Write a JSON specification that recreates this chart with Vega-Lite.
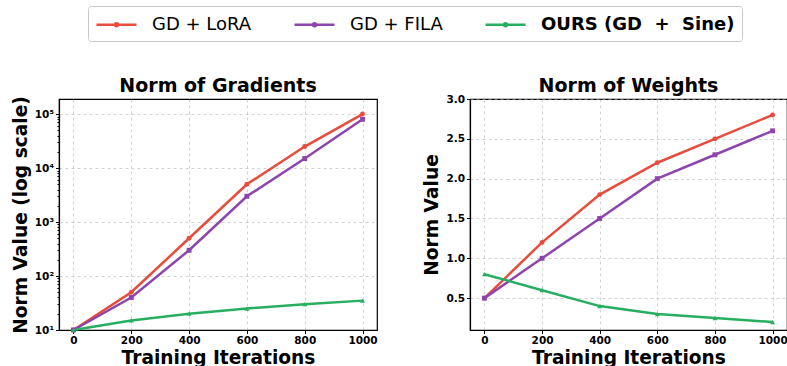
{
  "$schema": "https://vega.github.io/schema/vega-lite/v6.json",
  "padding": {"left": 10, "top": 5, "right": 0, "bottom": 0},
  "background": "white",
  "spacing": 44,
  "datasets": {
    "grad": [
      {"iter": 0, "series": "GD + LoRA", "value": 10},
      {"iter": 200, "series": "GD + LoRA", "value": 50},
      {"iter": 400, "series": "GD + LoRA", "value": 500},
      {"iter": 600, "series": "GD + LoRA", "value": 5000},
      {"iter": 800, "series": "GD + LoRA", "value": 25000},
      {"iter": 1000, "series": "GD + LoRA", "value": 100000},
      {"iter": 0, "series": "GD + FILA", "value": 10},
      {"iter": 200, "series": "GD + FILA", "value": 40},
      {"iter": 400, "series": "GD + FILA", "value": 300},
      {"iter": 600, "series": "GD + FILA", "value": 3000},
      {"iter": 800, "series": "GD + FILA", "value": 15000},
      {"iter": 1000, "series": "GD + FILA", "value": 80000},
      {"iter": 0, "series": "OURS (GD + Sine)", "value": 10},
      {"iter": 200, "series": "OURS (GD + Sine)", "value": 15},
      {"iter": 400, "series": "OURS (GD + Sine)", "value": 20},
      {"iter": 600, "series": "OURS (GD + Sine)", "value": 25},
      {"iter": 800, "series": "OURS (GD + Sine)", "value": 30},
      {"iter": 1000, "series": "OURS (GD + Sine)", "value": 35}
    ],
    "weight": [
      {"iter": 0, "series": "GD + LoRA", "value": 0.5},
      {"iter": 200, "series": "GD + LoRA", "value": 1.2},
      {"iter": 400, "series": "GD + LoRA", "value": 1.8},
      {"iter": 600, "series": "GD + LoRA", "value": 2.2},
      {"iter": 800, "series": "GD + LoRA", "value": 2.5},
      {"iter": 1000, "series": "GD + LoRA", "value": 2.8},
      {"iter": 0, "series": "GD + FILA", "value": 0.5},
      {"iter": 200, "series": "GD + FILA", "value": 1.0},
      {"iter": 400, "series": "GD + FILA", "value": 1.5},
      {"iter": 600, "series": "GD + FILA", "value": 2.0},
      {"iter": 800, "series": "GD + FILA", "value": 2.3},
      {"iter": 1000, "series": "GD + FILA", "value": 2.6},
      {"iter": 0, "series": "OURS (GD + Sine)", "value": 0.8},
      {"iter": 200, "series": "OURS (GD + Sine)", "value": 0.6},
      {"iter": 400, "series": "OURS (GD + Sine)", "value": 0.4},
      {"iter": 600, "series": "OURS (GD + Sine)", "value": 0.3},
      {"iter": 800, "series": "OURS (GD + Sine)", "value": 0.25},
      {"iter": 1000, "series": "OURS (GD + Sine)", "value": 0.2}
    ]
  },
  "config": {
    "font": "DejaVu Sans",
    "view": {"stroke": "black", "strokeWidth": 1.2},
    "axis": {
      "labelFont": "DejaVu Sans", "labelFontWeight": "bold", "labelFontSize": 10.5, "labelColor": "black",
      "titleFont": "DejaVu Sans", "titleFontSize": 18.6, "titleFontWeight": "bold", "titleColor": "black",
      "domainColor": "black", "domainWidth": 1.2, "tickColor": "black", "tickSize": 3.5, "labelPadding": 2,
      "gridColor": "#b0b0b0", "gridDash": [3, 3], "gridWidth": 0.7, "gridOpacity": 0.8
    },
    "axisX": {"titlePadding": 2},
    "axisY": {"titlePadding": 4},
    "title": {"fontSize": 19, "font": "DejaVu Sans", "fontWeight": "bold", "color": "black"}
  },
  "hconcat": [
    {
      "width": 318, "height": 231,
      "title": {"text": "Norm of Gradients", "offset": 0},
      "data": {"name": "grad"},
      "layer": [
        {
          "mark": {"type": "line", "strokeWidth": 2.5},
          "encoding": {
            "x": {"field": "iter", "type": "quantitative", "scale": {"domain": [-50, 1050], "nice": false, "zero": false},
                  "axis": {"values": [0, 200, 400, 600, 800, 1000], "format": "d", "title": "Training Iterations"}},
            "y": {"field": "value", "type": "quantitative", "scale": {"type": "log", "domain": [10, 190000], "nice": false},
                  "axis": {"values": [10, 100, 1000, 10000, 100000], "title": "Norm Value (log scale)",
                           "labelExpr": "'10' + ['⁰','¹','²','³','⁴','⁵','⁶'][round(log(datum.value)/LN10)]"}},
            "color": {"field": "series", "type": "nominal",
                      "scale": {"domain": ["GD + LoRA", "GD + FILA", "OURS (GD + Sine)"], "range": ["#e74c3c", "#8e44ad", "#27ae60"]},
                      "legend": {
                        "title": null, "orient": "none", "legendX": 29, "legendY": -93, "direction": "horizontal", "columns": 3,
                        "symbolType": "M-1,0H3M0.85,0A0.15,0.15 0 1,1 1.15,0A0.15,0.15 0 1,1 0.85,0", "symbolSize": 400, "symbolStrokeWidth": 2.5,
                        "labelFont": "DejaVu Sans", "labelFontSize": 18, "labelColor": "black", "labelOffset": 34,
                        "columnPadding": 37, "padding": 7, "fillColor": "white", "strokeColor": "#c8c8c8", "cornerRadius": 3,
                        "labelLimit": 400,
                        "labelExpr": "datum.label == 'OURS (GD + Sine)' ? 'OURS (GD\u00a0 +\u00a0 Sine)' : datum.label",
                        "labelFontWeight": {"expr": "datum.label == 'OURS (GD + Sine)' ? 'bold' : 'normal'"}}}
          }
        },
        {
          "transform": [{"filter": "datum.series == 'GD + LoRA'"}],
          "mark": {"type": "point", "filled": true, "opacity": 1, "size": 24, "shape": "circle"},
          "encoding": {
            "x": {"field": "iter", "type": "quantitative"},
            "y": {"field": "value", "type": "quantitative",
                  "axis": {"orient": "left", "values": [20, 30, 40, 50, 60, 70, 80, 90, 200, 300, 400, 500, 600, 700, 800, 900, 2000, 3000, 4000, 5000, 6000, 7000, 8000, 9000, 20000, 30000, 40000, 50000, 60000, 70000, 80000, 90000],
                           "labels": false, "grid": false, "domain": false, "title": null, "tickSize": 2}},
            "color": {"field": "series", "type": "nominal", "legend": null}
          }
        },
        {
          "transform": [{"filter": "datum.series == 'GD + FILA'"}],
          "mark": {"type": "point", "filled": true, "opacity": 1, "size": 24, "shape": "square"},
          "encoding": {
            "x": {"field": "iter", "type": "quantitative"},
            "y": {"field": "value", "type": "quantitative", "axis": null},
            "color": {"field": "series", "type": "nominal", "legend": null}
          }
        },
        {
          "transform": [{"filter": "datum.series == 'OURS (GD + Sine)'"}],
          "mark": {"type": "point", "filled": true, "opacity": 1, "size": 24, "shape": "triangle-up"},
          "encoding": {
            "x": {"field": "iter", "type": "quantitative"},
            "y": {"field": "value", "type": "quantitative", "axis": null},
            "color": {"field": "series", "type": "nominal", "legend": null}
          }
        }
      ],
      "resolve": {"axis": {"y": "independent"}}
    },
    {
      "width": 317, "height": 231,
      "title": {"text": "Norm of Weights", "offset": -2},
      "data": {"name": "weight"},
      "layer": [
        {
          "mark": {"type": "line", "strokeWidth": 2.5},
          "encoding": {
            "x": {"field": "iter", "type": "quantitative", "scale": {"domain": [-50, 1050], "nice": false, "zero": false},
                  "axis": {"values": [0, 200, 400, 600, 800, 1000], "format": "d", "title": "Training Iterations"}},
            "y": {"field": "value", "type": "quantitative", "scale": {"domain": [0.1, 3.0], "nice": false, "zero": false},
                  "axis": {"values": [0.5, 1.0, 1.5, 2.0, 2.5, 3.0], "format": ".1f", "title": "Norm Value"}},
            "color": {"field": "series", "type": "nominal", "legend": null}
          }
        },
        {
          "transform": [{"filter": "datum.series == 'GD + LoRA'"}],
          "mark": {"type": "point", "filled": true, "opacity": 1, "size": 24, "shape": "circle"},
          "encoding": {
            "x": {"field": "iter", "type": "quantitative"},
            "y": {"field": "value", "type": "quantitative"},
            "color": {"field": "series", "type": "nominal", "legend": null}
          }
        },
        {
          "transform": [{"filter": "datum.series == 'GD + FILA'"}],
          "mark": {"type": "point", "filled": true, "opacity": 1, "size": 24, "shape": "square"},
          "encoding": {
            "x": {"field": "iter", "type": "quantitative"},
            "y": {"field": "value", "type": "quantitative"},
            "color": {"field": "series", "type": "nominal", "legend": null}
          }
        },
        {
          "transform": [{"filter": "datum.series == 'OURS (GD + Sine)'"}],
          "mark": {"type": "point", "filled": true, "opacity": 1, "size": 24, "shape": "triangle-up"},
          "encoding": {
            "x": {"field": "iter", "type": "quantitative"},
            "y": {"field": "value", "type": "quantitative"},
            "color": {"field": "series", "type": "nominal", "legend": null}
          }
        }
      ]
    }
  ]
}
